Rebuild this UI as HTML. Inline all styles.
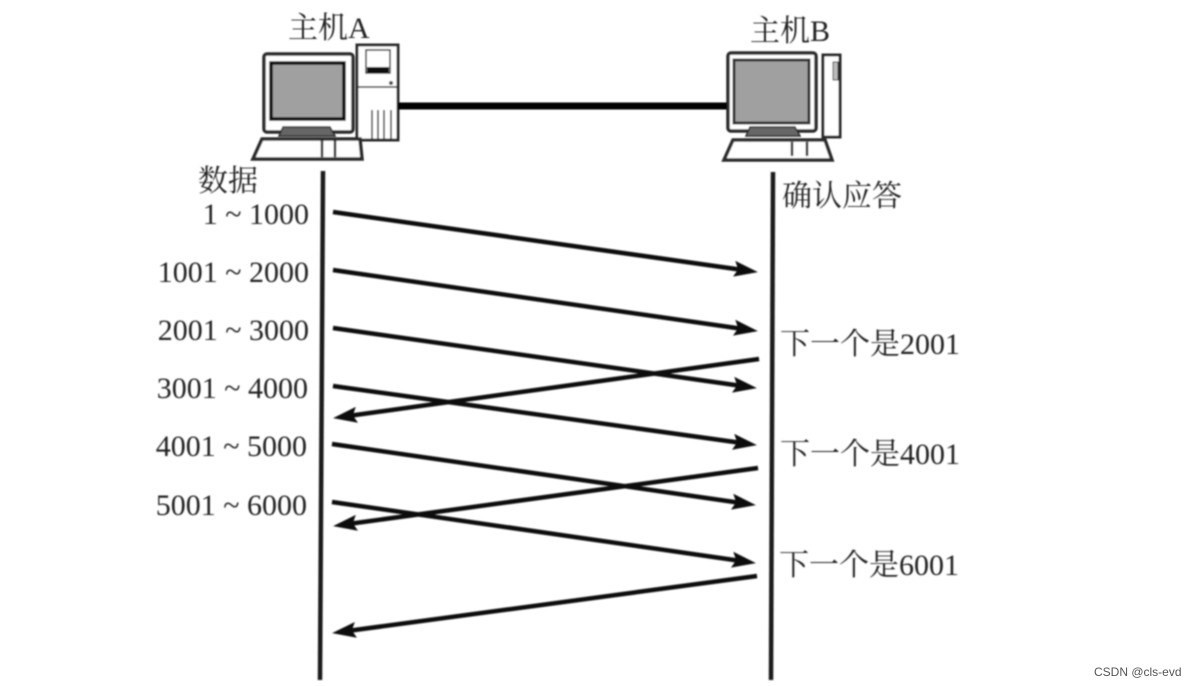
<!DOCTYPE html>
<html><head><meta charset="utf-8"><style>
html,body{margin:0;padding:0;background:#fff}
svg{display:block}
text{font-family:"Liberation Serif","Noto Serif CJK SC",serif;fill:#222;font-size:30px}
</style></head><body>
<svg width="1198" height="686" viewBox="0 0 1198 686" xmlns="http://www.w3.org/2000/svg">
<defs>
<filter id="b" x="-5%" y="-5%" width="110%" height="110%"><feGaussianBlur stdDeviation="0.9"/></filter>
<marker id="a" markerUnits="userSpaceOnUse" markerWidth="28" markerHeight="20" refX="16" refY="9" orient="auto"><path d="M0 1L24 9L0 17L4 9Z" fill="#111"/></marker>
</defs>
<g filter="url(#b)">
<!-- Host A -->
<g fill="none" stroke="#2a2a2a">
<rect x="264" y="54" width="89" height="78" rx="3" fill="#fff" stroke-width="3.5"/>
<rect x="271" y="63" width="73" height="56" fill="#a0a0a0" stroke="#111" stroke-width="3.5"/>
<rect x="357" y="45" width="41" height="95" fill="#fff" stroke-width="3"/>
<rect x="366" y="50" width="24" height="23" fill="#fff" stroke-width="1.5"/>
<rect x="367" y="67" width="22" height="6" fill="#111" stroke="none"/>
<line x1="358" y1="87" x2="397" y2="87" stroke-width="1.5"/>
<circle cx="391" cy="83" r="2" fill="#444" stroke="none"/>
<path d="M372 110V139M378 110V139M384 110V139M391 110V139" stroke-width="1.5"/>
<path d="M283 127H330L335 136H279Z" fill="#666" stroke-width="1.5"/>
<path d="M262 139H360L362 159H253Z" fill="#fff" stroke-width="3.5"/>
<path d="M322 139V157M335 139V157" stroke-width="2.5"/>
</g>
<!-- Host B -->
<g fill="none" stroke="#2a2a2a">
<rect x="728" y="53" width="88" height="78" rx="3" fill="#fff" stroke-width="3.5"/>
<rect x="734" y="60" width="75" height="63" fill="#a0a0a0" stroke="#333" stroke-width="3"/>
<rect x="823" y="55" width="17" height="82" fill="#fff" stroke-width="3"/>
<rect x="833" y="62" width="5" height="18" fill="#bbb" stroke-width="1"/>
<path d="M750 127H795L800 136H746Z" fill="#666" stroke-width="1.5"/>
<path d="M733 140H825L832 160H724Z" fill="#fff" stroke-width="3.5"/>
<path d="M792 142V156M807 142V156" stroke-width="2.5"/>
</g>
<!-- Cable -->
<line x1="398" y1="106" x2="727" y2="106" stroke="#000" stroke-width="7"/>
<!-- Lifelines -->
<line x1="323" y1="171" x2="320" y2="680" stroke="#1a1a1a" stroke-width="4.5"/>
<line x1="773" y1="172" x2="771" y2="680" stroke="#1a1a1a" stroke-width="4.5"/>
<!-- Arrows -->
<g stroke="#111" stroke-width="4.5" fill="none">
<line x1="333" y1="212" x2="750" y2="271" marker-end="url(#a)"/>
<line x1="333" y1="270" x2="750" y2="330" marker-end="url(#a)"/>
<line x1="333" y1="328" x2="749" y2="387" marker-end="url(#a)"/>
<line x1="333" y1="386" x2="749" y2="444" marker-end="url(#a)"/>
<line x1="332" y1="444" x2="748" y2="504" marker-end="url(#a)"/>
<line x1="332" y1="502" x2="748" y2="562" marker-end="url(#a)"/>
<line x1="759" y1="359" x2="341" y2="417" marker-end="url(#a)"/>
<line x1="758" y1="468" x2="341" y2="525" marker-end="url(#a)"/>
<line x1="757" y1="576" x2="340" y2="632" marker-end="url(#a)"/>
</g>
<!-- Labels -->
<text x="288" y="38">主机A</text>
<text x="750" y="41">主机B</text>
<text x="198" y="191">数据</text>
<text x="782" y="206">确认应答</text>
<text x="309" y="224" text-anchor="end">1 ~ 1000</text>
<text x="309" y="282" text-anchor="end">1001 ~ 2000</text>
<text x="309" y="340" text-anchor="end">2001 ~ 3000</text>
<text x="308" y="398" text-anchor="end">3001 ~ 4000</text>
<text x="307" y="456" text-anchor="end">4001 ~ 5000</text>
<text x="307" y="515" text-anchor="end">5001 ~ 6000</text>
<text x="780" y="354">下一个是2001</text>
<text x="780" y="464">下一个是4001</text>
<text x="779" y="575">下一个是6001</text>
</g>
<text x="1094" y="676" style="font-family:'Liberation Sans',sans-serif;font-size:12px;fill:#555">CSDN @cls-evd</text>
</svg>
</body></html>
